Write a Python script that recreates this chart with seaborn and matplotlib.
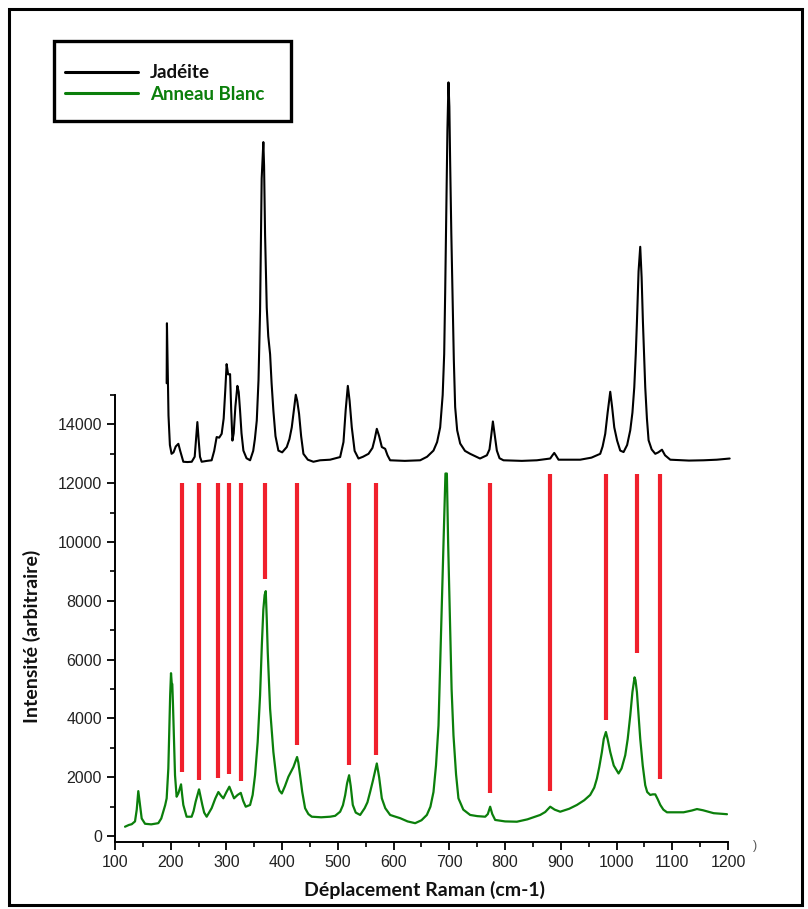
import matplotlib
matplotlib.use("Agg")
import matplotlib.pyplot as plt
from matplotlib.patches import Rectangle
from matplotlib.lines import Line2D
from matplotlib.ticker import MultipleLocator
import seaborn as sns
import pandas as pd

# ---------------- data ----------------
jade_x = [192.7, 193.2, 194.5, 196, 198.5, 201.5, 205, 209, 213.7, 217, 222.6, 230, 237.7, 243, 245.5,
          247.8, 250, 252.5, 255.5, 265, 273.4, 278, 282.4, 287, 291.4, 295, 298, 300.3, 303, 306.5,
          308.5, 310.7, 313, 316, 319.6, 322, 324.4, 327, 330.4, 336, 342.4, 348, 351, 354.4, 357.5,
          360.3, 362, 363.2, 364.8, 366.2, 367.5, 369.3, 372.3, 375, 378.3, 381, 384.2, 388, 393.2,
          400, 408.2, 413, 417.2, 421, 424.4, 427, 430.3, 434, 438.1, 446, 456, 468, 486, 504, 510,
          514, 517.8, 521, 524.9, 530, 536.9, 545, 554.9, 562, 566, 569.8, 574, 578.8, 584.8, 589,
          593.7, 620, 647.6, 660, 671.5, 678, 683.5, 688, 690.7, 692.5, 694.2, 696.5, 698.4, 700,
          701.4, 703.5, 705.6, 708, 710.4, 714, 719.4, 728, 737.3, 755, 767.3, 772, 775, 778.1, 781,
          785.2, 790, 797.1, 830, 857, 881, 885, 888.2, 891, 895.9, 934.8, 955, 970.7, 975, 979.7,
          984, 988.7, 992, 995.9, 1001, 1006.6, 1012.6, 1019, 1024.6, 1028.5, 1031.8, 1034.5, 1036.6,
          1039.5, 1042.5, 1045, 1047.3, 1049.5, 1051.5, 1054.5, 1057.5, 1063, 1069.5, 1075, 1081.5,
          1087, 1096.4, 1130, 1156.2, 1180, 1203]
jade_y = [15400, 17440, 16000, 14300, 13300, 13000, 13050, 13250, 13340, 13100, 12730, 12720, 12730,
          12900, 13500, 14080, 13500, 12900, 12730, 12760, 12780, 13100, 13570, 13550, 13680, 14200,
          15200, 16050, 15700, 15710, 14500, 13450, 13700, 14600, 15310, 15100, 14470, 13700, 13110,
          12850, 12780, 13100, 13500, 14130, 15500, 17850, 20500, 22360, 23000, 23600, 22800, 20450,
          17970, 17000, 16390, 15400, 14470, 13600, 13110, 13050, 13230, 13500, 13900, 14500, 15010,
          14800, 14360, 13600, 13000, 12800, 12730, 12780, 12800, 12890, 13400, 14500, 15310, 14800,
          13900, 13100, 12840, 12900, 13000, 13200, 13500, 13850, 13600, 13230, 13170, 12950, 12780,
          12760, 12780, 12900, 13110, 13400, 13900, 15000, 16390, 18500, 20850, 24000, 25630, 24800,
          22930, 20500, 18420, 16200, 14590, 13800, 13350, 13100, 13000, 12840, 12950, 13150, 13600,
          14100, 13700, 13110, 12850, 12780, 12760, 12780, 12840, 12950, 13030, 12950, 12800, 12800,
          12870, 13000, 13250, 13680, 14400, 15110, 14600, 13900, 13450, 13110, 13060, 13300, 13800,
          14400, 15260, 16400, 17500, 19200, 20040, 19000, 17500, 16300, 15260, 14200, 13460, 13150,
          13000, 13050, 13140, 12950, 12800, 12770, 12780, 12800, 12840]

ring_x = [118, 125, 130, 135.9, 139, 141.8, 144, 147.9, 153.9, 165, 177.7, 183, 186.7, 190, 192.7,
          195.7, 197.4, 199, 200.5, 201.8, 202.8, 204, 205.3, 207.7, 210.6, 213.6, 218.5, 220.5,
          222.6, 228.5, 237.5, 241, 244.7, 250.8, 253.5, 256.7, 260, 264.5, 273.4, 280, 285.5, 290,
          294.4, 300, 305.2, 309, 313.6, 320, 325.7, 330, 334.6, 342.4, 347, 351.3, 356, 360.3,
          363.5, 366.2, 368.5, 370.5, 372.3, 374.1, 378.3, 384.2, 390.3, 395, 399.3, 405, 411.2,
          416, 420.2, 424, 426.7, 429, 432.1, 436, 441.1, 447, 453.1, 470, 486, 495, 504, 509, 513,
          516.5, 520.1, 523, 526.7, 532, 539.9, 548, 553, 557.8, 563, 569.8, 574, 578.8, 585, 593.7,
          600, 611.7, 625, 638.6, 650, 659.6, 666, 671.5, 676, 680.5, 685.3, 689.5, 693, 695.5,
          697.8, 701.4, 704, 707.4, 712, 716.3, 725, 737.3, 750, 764.3, 769, 773.2, 777, 782.2, 800,
          821.2, 840, 863, 872, 881, 889, 898.9, 915, 928.9, 942, 952.7, 960, 964.8, 969, 973.7, 977,
          980.9, 984, 988.7, 995, 1003.6, 1009, 1015.6, 1020, 1024.6, 1028.5, 1032.3, 1034, 1036.6,
          1039.5, 1042.5, 1047, 1051.5, 1055, 1060.5, 1065, 1069.5, 1074, 1078.5, 1084, 1090.5,
          1120.3, 1135, 1144.3, 1155, 1174.2, 1198.2]
ring_y = [320, 380, 405, 500, 900, 1530, 1200, 600, 420, 400, 440, 600, 835, 1050, 1285, 2300, 3650,
          4800, 5540, 5200, 5170, 4500, 3650, 2070, 1340, 1450, 1760, 1400, 1060, 660, 660, 850, 1170,
          1590, 1350, 1060, 800, 660, 950, 1280, 1500, 1380, 1285, 1500, 1680, 1500, 1285, 1400, 1470,
          1200, 1000, 1060, 1400, 2070, 3200, 4780, 6500, 7710, 8200, 8330, 7400, 6250, 4330, 2860,
          1850, 1550, 1450, 1700, 2020, 2200, 2350, 2550, 2690, 2500, 2070, 1500, 950, 750, 660, 640,
          660, 690, 830, 1050, 1390, 1800, 2070, 1700, 1060, 800, 720, 950, 1150, 1500, 1900, 2470,
          2000, 1285, 950, 720, 680, 610, 500, 440, 540, 720, 1000, 1500, 2400, 3760, 7140, 9970,
          12330, 12330, 9970, 7140, 5000, 3420, 2100, 1285, 900, 720, 680, 660, 750, 1000, 750, 550,
          500, 490, 570, 720, 820, 1000, 900, 830, 930, 1060, 1220, 1400, 1650, 1960, 2350, 2860,
          3300, 3540, 3300, 2860, 2400, 2130, 2300, 2750, 3300, 4100, 4900, 5400, 5300, 4890, 4100,
          3310, 2400, 1730, 1500, 1400, 1420, 1420, 1250, 1060, 900, 810, 810, 870, 920, 880, 780, 745]

mark_pos = [219.7, 251.4, 284.4, 304.7, 326.2, 369.3, 426.7, 520.1, 569.2, 772.7, 879.8, 980.4,
            1037.3, 1078.5]
mark_bottom = [2190, 1900, 1980, 2100, 1880, 8750, 3110, 2410, 2770, 1470, 1545, 3960, 6220, 1930]
mark_top = [12000, 12000, 12000, 12000, 12000, 12000, 12000, 12000, 12000, 12000, 12300, 12300,
            12300, 12300]

x_ticks = [100, 200, 300, 400, 500, 600, 700, 800, 900, 1000, 1100, 1200]
y_ticks = [0, 2000, 4000, 6000, 8000, 10000, 12000, 14000]
series_names = ["Jadéite", "Anneau Blanc"]
xlabel = "Déplacement Raman (cm-1)"
ylabel = "Intensité (arbitraire)"

# ---------------- plot ----------------
sns.set_theme(style="ticks")
plt.rcParams["font.family"] = ["Liberation Sans", "DejaVu Sans"]

W, H = 808, 909
fig = plt.figure(figsize=(W / 100, H / 100), dpi=100)
fig.patch.set_facecolor("white")

def fx(px):
    return px / W

def fy(py):
    return 1 - py / H

ax = fig.add_axes([fx(115), fy(842), fx(728) - fx(115), fy(395) - fy(842)])
ax.set_facecolor("white")

BLACK = "#000000"
GREEN = "#0b7f0b"
RED = "#f0202c"

jade = pd.DataFrame({"x": jade_x, "y": jade_y})
ring = pd.DataFrame({"x": ring_x, "y": ring_y})

sns.lineplot(data=jade, x="x", y="y", ax=ax, color=BLACK, lw=1.5, sort=False,
             estimator=None, clip_on=False)
sns.lineplot(data=ring, x="x", y="y", ax=ax, color=GREEN, lw=1.6, sort=False,
             estimator=None)
ax.vlines(mark_pos, mark_bottom, mark_top, colors=RED, lw=3.0)

ax.set_xlim(100, 1200)
ax.set_ylim(-200, 15000)
ax.set_xticks(x_ticks)
ax.set_yticks(y_ticks)
ax.xaxis.set_minor_locator(MultipleLocator(50))
ax.yaxis.set_minor_locator(MultipleLocator(1000))
ax.tick_params(axis="both", which="major", direction="out", length=6, width=1.3,
               labelsize=11.5, labelcolor="#222222", color="black")
ax.tick_params(axis="both", which="minor", direction="out", length=3.5, width=1.2, color="black")
for side in ["top", "right"]:
    ax.spines[side].set_visible(False)
for side in ["left", "bottom"]:
    ax.spines[side].set_color("black")
    ax.spines[side].set_linewidth(1.4)

lab_font = dict(family=["Lato", "DejaVu Sans"], weight="bold", size=14, color="#111111")
ax.set_xlabel(xlabel, **lab_font)
ax.set_ylabel(ylabel, **lab_font)
ax.xaxis.set_label_coords((425 - 115) / (728 - 115), -(890 - 842) / (842 - 395))
ax.yaxis.set_label_coords(-(115 - 32) / (728 - 115), (842 - 636) / (842 - 395))
ax.xaxis.label.set_va("center")
ax.yaxis.label.set_va("center")

# stray bracket visible at the right end of the x axis in the reference
fig.text(fx(755), fy(846), ")", fontsize=9, color="#555555", ha="center", va="center")

# legend box (manual, as in the reference)
fig.add_artist(Rectangle((fx(54), fy(121)), fx(291) - fx(54), fy(41) - fy(121),
                         transform=fig.transFigure, fill=False, ec="black", lw=2.4))
fig.add_artist(Line2D([fx(65), fx(138)], [fy(72), fy(72)], transform=fig.transFigure,
                      color=BLACK, lw=2.2))
fig.add_artist(Line2D([fx(65), fx(138)], [fy(93), fy(93)], transform=fig.transFigure,
                      color=GREEN, lw=2.2))
leg_font = dict(family=["Lato", "DejaVu Sans"], weight="bold", size=13.5)
fig.text(fx(150), fy(72), series_names[0], color="#111111", ha="left", va="center", **leg_font)
fig.text(fx(150), fy(94), series_names[1], color=GREEN, ha="left", va="center", **leg_font)

# outer frame around the whole picture
fig.add_artist(Rectangle((fx(9), fy(905)), fx(802) - fx(9), fy(9) - fy(905),
                         transform=fig.transFigure, fill=False, ec="black", lw=2.2))

fig.savefig("out.png", dpi=100, facecolor="white")
